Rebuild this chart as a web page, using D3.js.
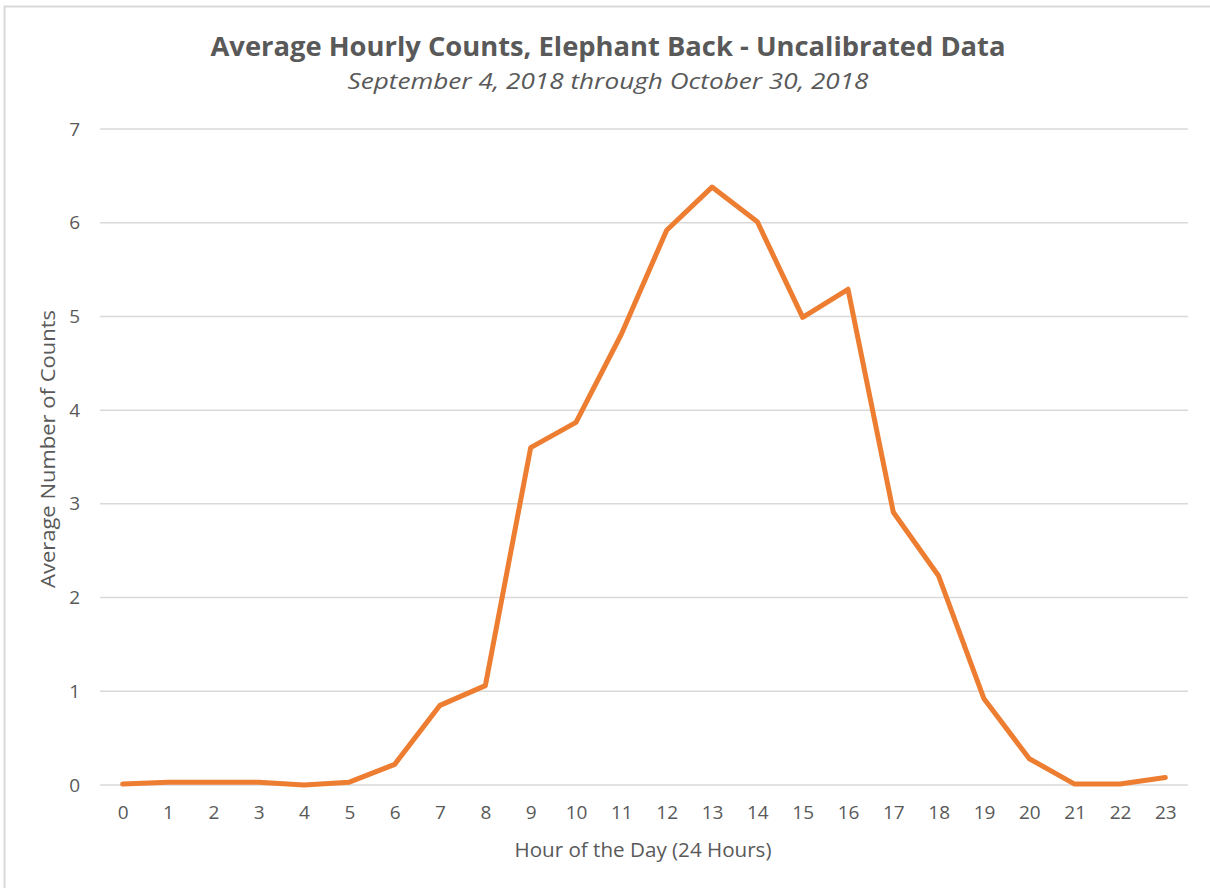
<!DOCTYPE html>
<html>
<head>
<meta charset="utf-8">
<script src="https://cdn.jsdelivr.net/npm/d3@7/dist/d3.min.js"></script>
<style>
  html, body { margin: 0; padding: 0; background: #fff; }
  svg { display: block; }
  text { font-family: "Open Sans", "Liberation Sans", sans-serif; fill: #595959; }
</style>
</head>
<body>
<svg id="chart" width="1210" height="888"></svg>
<script>
// Hours of the day and average hourly counts
const hours = [0,1,2,3,4,5,6,7,8,9,10,11,12,13,14,15,16,17,18,19,20,21,22,23];
const counts = [0.01,0.03,0.03,0.03,0.0,0.03,0.22,0.85,1.06,3.60,3.87,4.81,5.92,6.38,6.01,4.99,5.29,2.91,2.23,0.92,0.28,0.01,0.01,0.08];
const yTicks = [0,1,2,3,4,5,6,7];

const titleText = "Average Hourly Counts, Elephant Back - Uncalibrated Data";
const subtitleText = "September 4, 2018 through October 30, 2018";
const xTitle = "Hour of the Day (24 Hours)";
const yTitle = "Average Number of Counts";

const svg = d3.select("#chart");

// chart frame
svg.append("path")
  .attr("d", "M4.5,888 V6.5 H1210")
  .attr("fill", "none")
  .attr("stroke", "#d9d9d9")
  .attr("stroke-width", 2);

const plot = { left: 100, right: 1188, top: 129, bottom: 785 };
const band = (plot.right - plot.left) / hours.length;

const x = d3.scaleLinear()
  .domain([0, 23])
  .range([plot.left + band / 2, plot.right - band / 2]);
const y = d3.scaleLinear().domain([0, 7]).range([plot.bottom, plot.top]);

// horizontal gridlines
svg.append("g")
  .selectAll("line")
  .data(yTicks)
  .join("line")
  .attr("x1", plot.left).attr("x2", plot.right)
  .attr("y1", d => y(d)).attr("y2", d => y(d))
  .attr("stroke", "#d9d9d9")
  .attr("stroke-width", 1.5);

// y axis labels
const yAxis = svg.append("g")
  .attr("transform", `translate(${plot.left - 20},0)`)
  .call(d3.axisLeft(y).tickValues(yTicks).tickSize(0).tickPadding(0).tickFormat(d3.format("d")));
yAxis.select(".domain").remove();
yAxis.selectAll("text")
  .style("font-size", "19px")
  .attr("fill", "#595959")
  .style("font-family", "'Open Sans', sans-serif");

// x axis labels
const xAxis = svg.append("g")
  .attr("transform", `translate(0,${plot.bottom})`)
  .call(d3.axisBottom(x).tickValues(hours).tickSize(0).tickPadding(21).tickFormat(d3.format("d")));
xAxis.select(".domain").remove();
xAxis.selectAll("text")
  .style("font-size", "19px")
  .attr("fill", "#595959")
  .style("font-family", "'Open Sans', sans-serif");

// data line
const line = d3.line()
  .x((d, i) => x(hours[i]))
  .y(d => y(d));

svg.append("path")
  .datum(counts)
  .attr("d", line)
  .attr("fill", "none")
  .attr("stroke", "#ed7d31")
  .attr("stroke-width", 5)
  .attr("stroke-linejoin", "round")
  .attr("stroke-linecap", "round");

// titles
svg.append("text")
  .attr("x", 608).attr("y", 56)
  .attr("text-anchor", "middle")
  .style("font-size", "27px")
  .attr("font-weight", "bold")
  .attr("textLength", 795)
  .attr("lengthAdjust", "spacingAndGlyphs")
  .text(titleText);

svg.append("text")
  .attr("x", 608).attr("y", 89)
  .attr("text-anchor", "middle")
  .style("font-size", "22px")
  .attr("font-style", "italic")
  .attr("textLength", 521)
  .attr("lengthAdjust", "spacingAndGlyphs")
  .text(subtitleText);

svg.append("text")
  .attr("x", 643).attr("y", 857)
  .attr("text-anchor", "middle")
  .style("font-size", "20px")
  .attr("textLength", 257)
  .attr("lengthAdjust", "spacingAndGlyphs")
  .text(xTitle);

svg.append("text")
  .attr("transform", "translate(55,449) rotate(-90)")
  .attr("text-anchor", "middle")
  .style("font-size", "20px")
  .attr("textLength", 278)
  .attr("lengthAdjust", "spacingAndGlyphs")
  .text(yTitle);
</script>
</body>
</html>
